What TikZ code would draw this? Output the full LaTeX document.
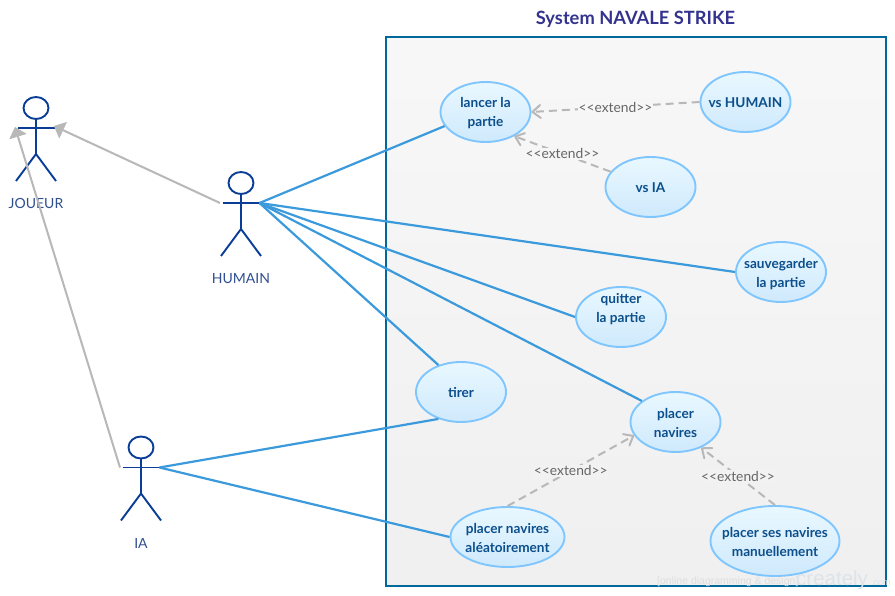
\documentclass[tikz,border=0pt]{standalone}
\usepackage{fontspec}
\setmainfont{Lato}
\newfontfamily\wmfont{Liberation Sans}
\usetikzlibrary{arrows.meta,shapes.geometric}
\definecolor{framec}{HTML}{00689A}
\definecolor{titlec}{HTML}{33338F}
\definecolor{actorc}{HTML}{0A3D97}
\definecolor{actortxt}{HTML}{2F4F8F}
\definecolor{ucline}{HTML}{7FC6FF}
\definecolor{uctop}{HTML}{E9F8FF}
\definecolor{ucbot}{HTML}{CFE9FC}
\definecolor{uctxt}{HTML}{0B4F8C}
\definecolor{assoc}{HTML}{3A9ADC}
\definecolor{grayl}{HTML}{B8B8B8}
\definecolor{exttxt}{HTML}{666666}
\definecolor{wmc}{HTML}{DCE4EA}
\newcommand\topgap[1]{\rule{0pt}{10pt}\\[#1]}
\tikzset{
  x=1pt,y=-1pt,
  actorline/.style={draw=actorc,line width=1.9pt},
  actor/.pic={
    \draw[actorline] (0,-20) ellipse (12.5 and 11);
    \draw[actorline] (0,-9) -- (0,26);
    \draw[actorline] (-18.5,0) -- (18.5,0);
    \draw[actorline] (-20,53) -- (0,26) -- (20,53);
    \coordinate (-left) at (-21,0);
    \coordinate (-right) at (18.5,0);
  },
  actorlabel/.style={text=actortxt,font=\fontsize{14}{17}\selectfont,inner sep=0pt},
  usecase/.style={ellipse,draw=ucline,line width=1.9pt,top color=uctop,bottom color=ucbot,
    minimum width=90pt,minimum height=60pt,inner sep=-15pt,align=center,text=uctxt,
    font=\fontsize{13.6}{19}\selectfont\bfseries},
  lowered/.style={execute at begin node=\rule{0pt}{12pt}},
  assocline/.style={draw=assoc,line width=2.2pt},
  genline/.style={draw=grayl,line width=2pt,-{Triangle[length=10pt,width=18pt,fill=grayl,line width=0.5pt]}},
  extline/.style={draw=grayl,line width=2pt,dash pattern=on 8pt off 5pt,
    -{Straight Barb[length=8pt,width=13pt,line width=2pt,round]}},
  extlabel/.style={text=exttxt,font=\fontsize{13.8}{15}\selectfont,inner xsep=0.5pt,inner ysep=1pt,midway},
}
\begin{document}
\begin{tikzpicture}
\useasboundingbox (0,0) rectangle (895,596);
\fill[white] (0,0) rectangle (895,596);
\node[text=titlec,font=\fontsize{18.3}{22}\selectfont\bfseries,inner sep=0pt] (title) at (635.5,19) {System NAVALE STRIKE};
\path[top color=white!97!black,bottom color=black!6,draw=none] (386,37) rectangle (886,586);
\draw[draw=framec,line width=2pt] (386,37) rectangle (886,586);

\pic (joueur) at (36,128) {actor};
\pic (humain) at (241,203) {actor};
\pic (ia) at (141,467.5) {actor};
\node[actorlabel] (joueurlabel) at (36,203) {JOUEUR};
\node[actorlabel] (humainlabel) at (241,278.5) {HUMAIN};
\node[actorlabel] (ialabel) at (141,543) {IA};
\coordinate (joueurtipR) at (54,126);
\coordinate (joueurtipL) at (15,127);

\node[usecase] (lancer) at (485.5,112) {\topgap{-17pt}lancer la\\partie};
\node[usecase,lowered] (vshumain) at (745.5,102) {vs HUMAIN};
\node[usecase,lowered] (vsia) at (650.5,187) {vs IA};
\node[usecase] (sauv) at (781,272) {\topgap{-15pt}sauvegarder\\la partie};
\node[usecase] (quitter) at (621,317) {quitter\\la partie\\[-0.5pt]\mbox{}};
\node[usecase] (tirer) at (461,392) {tirer};
\node[usecase] (placer) at (675.5,422) {\topgap{-17pt}placer\\navires};
\node[usecase,minimum width=114pt] (alea) at (507.5,537) {\topgap{-17pt}placer navires\\aléatoirement};
\node[usecase,minimum width=129pt,minimum height=70pt] (manuel) at (775,541) {\topgap{-17pt}placer ses navires\\manuellement};

\draw[genline] (humain-left) -- (joueurtipR);
\draw[genline] (ia-left) -- (joueurtipL);

\draw[assocline] (humain-right) -- (lancer.199);
\draw[assocline] (humain-right) -- (sauv.west);
\draw[assocline] (humain-right) -- (quitter.west);
\draw[assocline] (humain-right) -- (placer.148);
\draw[assocline] (humain-right) -- (tirer.130);
\draw[assocline] (ia-right) -- (tirer.230);
\draw[assocline] (ia-right) -- (alea.west);

\draw[extline] (vshumain.west) -- (lancer.east) node[extlabel,fill=white!97!black] {<{}<extend>{}>};
\draw[extline] (vsia.159) -- (lancer.-40) node[extlabel,fill=white!96.5!black] {<{}<extend>{}>};
\draw[extline] (alea.north) -- (placer.198) node[extlabel,fill=white!95!black] {<{}<extend>{}>};
\draw[extline] (manuel.north) -- (placer.-45) node[extlabel,fill=white!95!black] {<{}<extend>{}>};

\node[anchor=base west,inner sep=0pt,text=black!13,font=\wmfont\fontsize{10.5}{12}\selectfont] (wm1) at (657,584) {[online diagramming \& design]};
\node[anchor=base west,inner sep=0pt,text=wmc,font=\wmfont\fontsize{20.5}{24}\selectfont] (wm2) at (796,585) {creately};
\node[anchor=base west,inner sep=0pt,text=wmc,font=\wmfont\fontsize{9}{12}\selectfont] (wm3) at (871,585) {.com};
\end{tikzpicture}
\end{document}
